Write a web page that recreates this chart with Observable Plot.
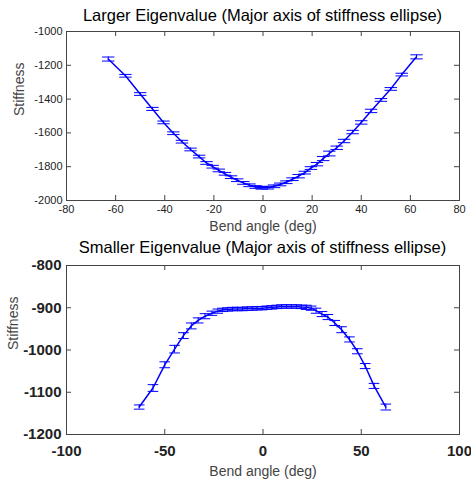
<!DOCTYPE html>
<html>
<head>
<meta charset="utf-8">
<script src="https://cdn.jsdelivr.net/npm/d3@7"></script>
<script src="https://cdn.jsdelivr.net/npm/@observablehq/plot@0.6"></script>
<style>
  html, body { margin: 0; padding: 0; background: #fff; }
  #wrap { width: 471px; height: 481px; position: relative; overflow: hidden; font-family: "Liberation Sans", Arial, sans-serif; }
  .title { position: absolute; left: 66px; width: 393px; text-align: center; color: #000; white-space: nowrap; z-index: 2; line-height: 1; }
  .panel { position: absolute; left: 0; z-index: 1; }
  svg { display: block; }
</style>
</head>
<body>
<div id="wrap"></div>
<script>
// Bend angles (deg), shared by both panels
const angles = [-63, -56, -50, -45, -40.5, -36.5, -33, -29.5, -26, -23, -20.5, -18, -15.5, -13, -10.5, -8, -5.5, -3, -0.5,
  2, 4.5, 7, 9.5, 12, 14.5, 17, 19.5, 22, 24.5, 27, 30, 33, 36.5, 40, 44, 48, 52, 56.5, 62.5];

// Larger eigenvalue: mean stiffness and error half-width
const largerMean = [-1163, -1262, -1370, -1458, -1538, -1602, -1652, -1698, -1740, -1778, -1800, -1822, -1842, -1862, -1880, -1896, -1910, -1920, -1925,
  -1924, -1916, -1905, -1892, -1874, -1856, -1835, -1808, -1785, -1752, -1722, -1688, -1648, -1595, -1538, -1470, -1405, -1340, -1255, -1150];
const largerErr = [12, 8, 8, 9, 8, 8, 8, 8, 8, 8, 8, 8, 8, 8, 8, 8, 8, 8, 8,
  8, 8, 8, 8, 8, 10, 8, 8, 10, 12, 14, 10, 10, 10, 10, 10, 8, 8, 8, 12];

// Smaller eigenvalue: mean stiffness and error half-width
const smallerMean = [-1135, -1090, -1035, -998, -966, -943, -930, -920, -913, -908, -905, -904, -903, -903, -903, -902, -902, -901, -901,
  -900, -899, -898, -897, -897, -897, -897, -898, -899, -901, -907, -915, -922, -936, -952, -975, -1003, -1038, -1085, -1135];
const smallerErr = [5, 8, 7, 9, 7, 7, 6, 6, 5, 5, 4, 4, 4, 4, 4, 4, 4, 4, 4,
  4, 4, 4, 4, 4, 4, 4, 4, 5, 5, 6, 6, 6, 6, 7, 6, 6, 6, 6, 7];

const xTicksTop = [-80, -60, -40, -20, 0, 20, 40, 60, 80];
const yTicksTop = [-2000, -1800, -1600, -1400, -1200, -1000];
const xTicksBottom = [-100, -50, 0, 50, 100];
const yTicksBottom = [-1200, -1100, -1000, -900, -800];

const titleTop = "Larger Eigenvalue (Major axis of stiffness ellipse)";
const titleBottom = "Smaller Eigenvalue (Major axis of stiffness ellipse)";
const xLabel = "Bend angle (deg)";
const yLabel = "Stiffness";

const topData = angles.map((a, i) => ({a, m: largerMean[i], e: largerErr[i]}));
const bottomData = angles.map((a, i) => ({a, m: smallerMean[i], e: smallerErr[i]}));

const capSymbol = {
  draw(ctx, size) {
    const w = Math.sqrt(size);
    ctx.moveTo(-w, 0);
    ctx.lineTo(w, 0);
  }
};

const W = 471, ML = 66, MR = 12;
const FW = W - ML - MR;
const FH = 169;

function panel(o) {
  const height = o.marginTop + FH + o.marginBottom;
  const tickLen = 5;
  return Plot.plot({
    width: W, height,
    marginLeft: ML, marginRight: MR, marginTop: o.marginTop, marginBottom: o.marginBottom,
    style: {fontFamily: "'Liberation Sans', Arial, sans-serif", background: "transparent", overflow: "visible"},
    x: {domain: o.xDomain},
    y: {domain: o.yDomain},
    marks: [
      // inward ticks on all four sides
      Plot.ruleX(o.xTicks, {x: d => d, insetTop: FH - tickLen, stroke: "#444", strokeWidth: 1}),
      Plot.ruleX(o.xTicks, {x: d => d, insetBottom: FH - tickLen, stroke: "#444", strokeWidth: 1}),
      Plot.ruleY(o.yTicks, {y: d => d, insetRight: FW - tickLen, stroke: "#444", strokeWidth: 1}),
      Plot.ruleY(o.yTicks, {y: d => d, insetLeft: FW - tickLen, stroke: "#444", strokeWidth: 1}),
      Plot.frame({stroke: "#444", strokeWidth: 1}),
      Plot.axisX(o.xTicks, {anchor: "bottom", tickSize: 0, tickPadding: o.xPad, tickFormat: d => String(d),
        fontSize: o.tickFont, fontWeight: o.tickWeight, fill: "#222", label: null}),
      Plot.axisY(o.yTicks, {anchor: "left", tickSize: 0, tickPadding: o.yPad, tickFormat: d => String(d),
        fontSize: o.tickFont, fontWeight: o.tickWeight, fill: "#222", label: null}),
      Plot.text([xLabel], {text: d => d, frameAnchor: "bottom", dy: o.xLabelDy, fontSize: 14, fill: "#444"}),
      Plot.text([yLabel], {text: d => d, frameAnchor: "left", dx: o.yLabelDx, rotate: -90, fontSize: 14, fill: "#444"}),
      // mean curve
      Plot.line(o.data, {x: "a", y: "m", stroke: "#0000ff", strokeWidth: 1.5}),
      // error bars
      Plot.ruleX(o.data, {x: "a", y1: d => d.m - d.e, y2: d => d.m + d.e, stroke: "#0000ff", strokeWidth: 1}),
      Plot.dot(o.data, {x: "a", y: d => d.m + d.e, symbol: capSymbol, r: o.capR, stroke: "#0000ff", strokeWidth: 1}),
      Plot.dot(o.data, {x: "a", y: d => d.m - d.e, symbol: capSymbol, r: o.capR, stroke: "#0000ff", strokeWidth: 1})
    ]
  });
}

const wrap = document.getElementById("wrap");

const t1 = document.createElement("div");
t1.className = "title";
t1.style.top = "7px";
t1.style.fontSize = "16.5px";
t1.textContent = titleTop;
wrap.appendChild(t1);

const p1 = panel({
  data: topData, xDomain: [-80, 80], yDomain: [-2000, -1000],
  xTicks: xTicksTop, yTicks: yTicksTop, marginTop: 31, marginBottom: 32,
  tickFont: 11, tickWeight: "normal", xPad: 5, yPad: 4, xLabelDy: 30, yLabelDx: -47, capR: 3.5
});
p1.classList.add("panel");
p1.style.top = "0px";
wrap.appendChild(p1);

const t2 = document.createElement("div");
t2.className = "title";
t2.style.top = "239px";
t2.style.fontSize = "16.5px";
t2.textContent = titleBottom;
wrap.appendChild(t2);

const p2 = panel({
  data: bottomData, xDomain: [-100, 100], yDomain: [-1200, -800],
  xTicks: xTicksBottom, yTicks: yTicksBottom, marginTop: 33, marginBottom: 47,
  tickFont: 15, tickWeight: "bold", xPad: 11, yPad: 5, xLabelDy: 41, yLabelDx: -53, capR: 3
});
p2.classList.add("panel");
p2.style.top = "232px";
wrap.appendChild(p2);
</script>
</body>
</html>
